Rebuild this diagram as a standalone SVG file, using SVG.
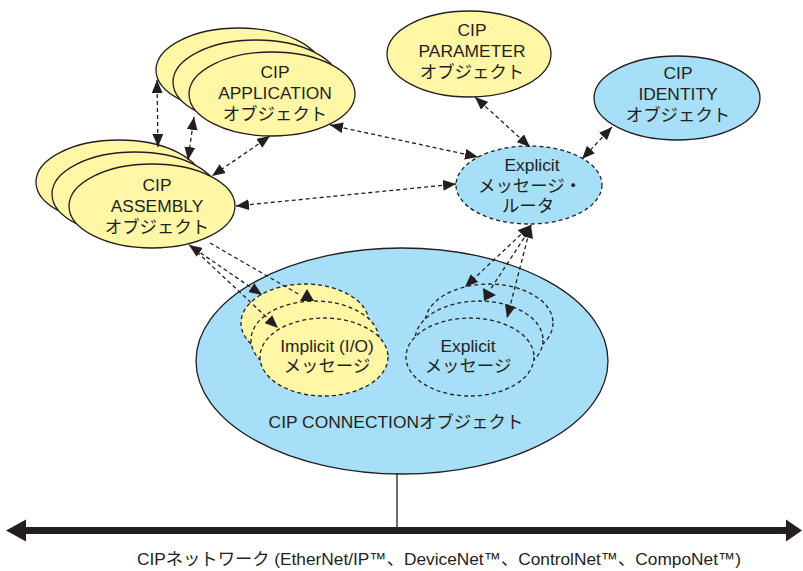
<svg xmlns="http://www.w3.org/2000/svg" width="803" height="571" viewBox="0 0 803 571">
<defs>
<style>
.y{fill:#fff6a6;stroke:#231f20;stroke-width:1.3}
.b{fill:#a6dff7;stroke:#231f20;stroke-width:1.3}
.yd{fill:#fff6a6;stroke:#231f20;stroke-width:1.3;stroke-dasharray:4 3}
.bd{fill:#a6dff7;stroke:#231f20;stroke-width:1.3;stroke-dasharray:4 3}
.t{font-family:"Liberation Sans","Noto Sans CJK JP",sans-serif;font-size:17.4px;fill:#231f20;text-anchor:middle}
.c{fill:none;stroke:#231f20;stroke-width:1.3;stroke-dasharray:4 3}
.h{fill:#231f20;stroke:none}
</style>
<marker id="ah" viewBox="0 0 12 10" refX="12" refY="5" markerWidth="13" markerHeight="11" orient="auto-start-reverse" markerUnits="userSpaceOnUse">
<path d="M0,0 L12,5 L0,10 z" fill="#231f20"/>
</marker>
</defs>
<rect width="803" height="571" fill="#ffffff"/>

<g id="connection">
<ellipse class="b" cx="402" cy="361" rx="206" ry="113"/>
<text class="t" x="396" y="428">CIP CONNECTIONオブジェクト</text>
</g>

<g id="implicit">
<ellipse class="yd" cx="305" cy="323" rx="64" ry="39"/>
<ellipse class="yd" cx="315" cy="340" rx="64" ry="39"/>
<ellipse class="yd" cx="324" cy="357" rx="64" ry="39"/>
<text class="t" x="327" y="352">Implicit (I/O)</text>
<text class="t" x="327" y="372">メッセージ</text>
</g>

<g id="explicit">
<ellipse class="bd" cx="489" cy="323" rx="64" ry="39"/>
<ellipse class="bd" cx="479" cy="340" rx="64" ry="39"/>
<ellipse class="bd" cx="470" cy="357" rx="64" ry="39"/>
<text class="t" x="468" y="352">Explicit</text>
<text class="t" x="468" y="372">メッセージ</text>
</g>

<g id="application">
<ellipse class="y" cx="239" cy="70" rx="83" ry="42"/>
<ellipse class="y" cx="256" cy="82" rx="83" ry="42"/>
<ellipse class="y" cx="272" cy="94" rx="83" ry="42"/>
<text class="t" x="275" y="78">CIP</text>
<text class="t" x="275" y="99">APPLICATION</text>
<text class="t" x="275" y="120">オブジェクト</text>
</g>

<g id="assembly">
<ellipse class="y" cx="119" cy="182" rx="83" ry="42"/>
<ellipse class="y" cx="135" cy="194" rx="83" ry="42"/>
<ellipse class="y" cx="152" cy="206" rx="83" ry="42"/>
<text class="t" x="157" y="191">CIP</text>
<text class="t" x="157" y="212">ASSEMBLY</text>
<text class="t" x="157" y="233">オブジェクト</text>
</g>

<g id="parameter">
<ellipse class="y" cx="469" cy="54" rx="82" ry="43"/>
<text class="t" x="472" y="36">CIP</text>
<text class="t" x="472" y="57">PARAMETER</text>
<text class="t" x="472" y="78">オブジェクト</text>
</g>

<g id="identity">
<ellipse class="b" cx="677" cy="98" rx="83" ry="42"/>
<text class="t" x="678" y="79">CIP</text>
<text class="t" x="678" y="100">IDENTITY</text>
<text class="t" x="678" y="121">オブジェクト</text>
</g>

<g id="router">
<ellipse class="bd" cx="529" cy="185" rx="73" ry="39"/>
<text class="t" x="532" y="171">Explicit</text>
<text class="t" x="530" y="192">メッセージ・</text>
<text class="t" x="528" y="212">ルータ</text>
</g>

<g id="connectors">
<line class="c" x1="157" y1="80" x2="158" y2="147" marker-start="url(#ah)" marker-end="url(#ah)"/>
<line class="c" x1="194" y1="117" x2="188" y2="160" marker-start="url(#ah)" marker-end="url(#ah)"/>
<line class="c" x1="270" y1="136" x2="212" y2="176" marker-start="url(#ah)" marker-end="url(#ah)"/>
<line class="c" x1="330" y1="125" x2="478" y2="157" marker-start="url(#ah)" marker-end="url(#ah)"/>
<line class="c" x1="236" y1="206" x2="456" y2="184" marker-start="url(#ah)" marker-end="url(#ah)"/>
<line class="c" x1="475" y1="97" x2="530" y2="147" marker-start="url(#ah)" marker-end="url(#ah)"/>
<line class="c" x1="612" y1="127" x2="582" y2="159" marker-start="url(#ah)" marker-end="url(#ah)"/>
<line class="c" x1="531" y1="225" x2="465" y2="287" marker-start="url(#ah)" marker-end="url(#ah)"/>
<line class="c" x1="528" y1="232" x2="490" y2="290"/>
<polygon class="h" points="483,288 484,301 496,295"/>
<line class="c" x1="531" y1="225" x2="507" y2="318" marker-start="url(#ah)" marker-end="url(#ah)"/>
<line class="c" x1="189" y1="245" x2="262" y2="295" marker-start="url(#ah)" marker-end="url(#ah)"/>
<line class="c" x1="197" y1="252" x2="278" y2="328" marker-end="url(#ah)"/>
<line class="c" x1="210" y1="243" x2="300" y2="295"/>
<polygon class="h" points="300,301 314,301 307,289"/>
<line x1="397" y1="473" x2="397" y2="528" stroke="#231f20" stroke-width="1.3"/>
<line x1="20" y1="530.5" x2="790" y2="530.5" stroke="#231f20" stroke-width="7"/>
<polygon class="h" points="6,530.5 26,519.5 26,541.5"/>
<polygon class="h" points="802,530.5 786,519.5 786,541.5"/>
</g>

<text class="t" x="137" y="565" style="text-anchor:start" textLength="604" lengthAdjust="spacingAndGlyphs">CIPネットワーク (EtherNet/IP™、DeviceNet™、ControlNet™、CompoNet™)</text>
</svg>
